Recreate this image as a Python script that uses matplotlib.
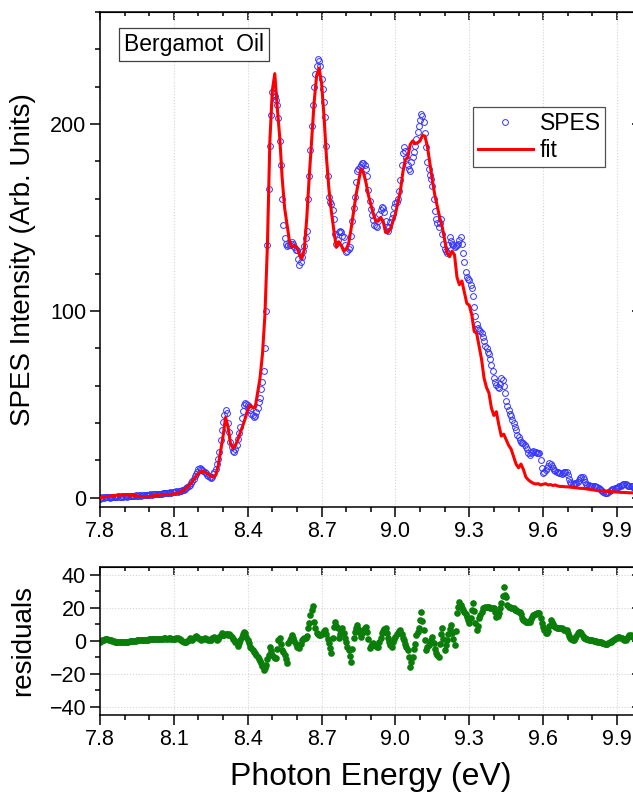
import numpy as np
import matplotlib
matplotlib.use('Agg')
import matplotlib.pyplot as plt
from matplotlib.ticker import MultipleLocator

plt.rcParams['font.family'] = ['Liberation Sans', 'DejaVu Sans']

# scan grid (eV)
spes_e0, spes_de = 7.80, 0.005
fit_e0, fit_de = 7.80, 0.01

# SPES intensity, one row per 0.1 eV
spes = [
    -0.5, 0.0, 0.3, 0.0, 0.5, 0.2, 0.5, 0.3, 0.0, 0.4, 0.5, 0.3, 0.6, 0.4, 0.5, 0.7, 0.5, 0.6, 0.8, 0.6,
    0.7, 0.9, 0.6, 0.8, 1.0, 0.8, 0.9, 1.1, 1.0, 1.2, 1.0, 1.1, 1.3, 1.1, 1.4, 1.2, 1.3, 1.5, 1.4, 1.6,
    1.5, 1.7, 1.6, 1.8, 1.7, 2.0, 1.9, 2.1, 2.0, 2.2, 2.1, 2.3, 2.4, 2.3, 2.5, 2.6, 2.5, 2.8, 2.7, 2.9,
    3.0, 3.1, 3.3, 3.2, 3.5, 3.8, 3.6, 4.0, 4.2, 4.5, 5.0, 5.5, 6.2, 7.0, 7.8, 8.8, 10.0, 11.5, 12.8, 14.0,
    15.5, 16.0, 15.5, 15.0, 14.5, 13.5, 13.0, 12.0, 11.5, 11.0, 10.5, 11.0, 12.5, 13.5, 15.5, 18.0, 20.5, 24.5, 31.0, 36.0,
    40.5, 44.0, 47.0, 45.5, 40.0, 35.0, 30.0, 27.0, 25.0, 24.5, 26.0, 28.0, 31.5, 34.5, 38.0, 42.5, 46.5, 49.5, 50.5, 50.0,
    49.5, 48.5, 47.0, 45.0, 44.0, 43.0, 43.5, 46.0, 48.0, 51.0, 53.5, 58.0, 62.0, 68.0, 80.0, 100.0, 135.0, 165.0, 188.0, 205.0,
    217, 216, 215, 213, 210, 203, 191, 178, 160, 146, 139, 136, 134.5, 135, 135, 136, 137, 136, 134, 132.5,
    132.5, 128, 124.5, 126, 129, 132, 134.5, 139, 143, 160, 172, 186, 199, 210, 220, 227, 231, 235, 234, 231,
    224, 219, 212, 204, 188, 172, 161, 158.5, 157, 154, 149, 141, 136, 138, 142, 143, 142, 140, 139.5, 135,
    131.5, 132, 133, 134, 140, 148, 155, 161, 169, 175, 176, 177, 178, 179, 179, 178, 176, 172, 164.5, 159,
    154.7, 151.5, 148.5, 146, 145.5, 145, 148, 152, 154, 155.6, 155, 153, 148, 145, 143, 145, 147.6, 149.5, 152, 155.6,
    157.5, 158.5, 160, 164, 170, 178, 184.5, 187.5, 185.5, 182, 178, 176, 175, 179.5, 182.5, 185, 188, 192, 195.5, 199,
    202, 205.5, 204.5, 201, 195, 187.7, 179.7, 176, 173, 170.5, 167, 160, 153.5, 149, 147, 145, 147, 149, 141, 136,
    133, 132, 131, 135, 139.6, 137.5, 136, 135, 134, 134.5, 135, 136, 138, 139.6, 136, 131, 126, 121, 118.2, 117,
    116.3, 114, 112, 108, 102, 97, 93, 91, 90, 89, 88, 86, 84, 81, 80, 78, 77, 74, 71, 68,
    64, 62, 60.5, 59, 58.7, 61, 63.8, 63, 60, 56, 51.5, 49, 47, 45, 43.5, 41.5, 40, 38, 36, 33.5,
    32.5, 31, 30, 29.5, 29, 28, 27, 26, 24, 22.8, 24, 24.6, 25, 24.6, 24.5, 24, 24, 23.8, 20, 16,
    13, 14, 15, 15.7, 17, 18.4, 18, 17, 16, 15, 14.5, 14, 13.5, 13, 13, 12.5, 13, 13.5, 14, 14,
    12, 10, 8.5, 7.7, 7.5, 7.5, 7.6, 7.7, 8.5, 9.5, 10.5, 11, 11, 10, 8.5, 7.5, 7, 6.8, 6.5, 6.5,
    6.3, 6, 6, 5.9, 5.5, 5, 4.5, 4, 3.5, 3, 2.5, 2.3, 2.5, 3, 3.5, 4, 4.5, 4.5, 5, 5,
    5, 5.5, 6, 6.5, 7, 7.3, 7.5, 7.3, 7, 6.5, 6, 6, 6, 5.5, 5, 5, 5.5, 6, 6, 5.5,
    5.5,
]

# residuals, same grid as spes
residuals = [
    -1.0, -0.3, 0.3, 0.8, 1.0, 1.1, 1.0, 0.8, 0.6, 0.3, 0.0, -0.3, -0.6, -0.8, -1.0, -1.0, -1.0, -0.9, -0.8, -0.7,
    -0.6, -0.5, -0.5, -0.4, -0.3, -0.2, -0.1, 0.0, 0.1, 0.2, 0.3, 0.4, 0.5, 0.5, 0.6, 0.6, 0.7, 0.7, 0.8, 0.8,
    0.9, 0.9, 1.0, 1.0, 1.1, 1.1, 1.2, 1.2, 1.3, 1.3, 1.4, 1.4, 1.5, 1.5, 1.4, 1.4, 1.5, 1.5, 1.4, 1.4,
    1.3, 1.4, 1.5, 1.5, 1.4, 1.2, 0.8, 0.2, -0.5, -1.0, -0.6, 0.0, 0.8, 1.5, 1.2, 0.8, 1.5, 2.2, 2.9, 2.5,
    1.5, 0.9, 0.8, 0.9, 1.2, 1.5, 1.2, 0.9, 0.5, 0.4, 0.8, 1.5, 2.0, 2.5, 1.5, 0.5, 1.0, 2.5, 3.5, 4.6,
    3.5, 3.8, 4.2, 4.0, 3.5, 4.0, 3.8, 2.5, 1.0, 0.5, -0.5, -1.5, -3.0, -1.5, 0.5, 2.5, 4.0, 5.6, 4.5, 2.5,
    0.5, -1.5, -3.5, -4.5, -5.5, -6.6, -7.5, -8.5, -9.6, -11.0, -12.5, -13.7, -15.5, -17.7, -16.5, -14.7, -11.0, -8.6, -3.5, -6.0,
    -8.5, -9.6, -10.5, -10.6, -5.0, 0.5, 1.5, -2.0, -5.6, -7.0, -8.6, -11.0, -13.7, -1.5, 0.5, 2.0, 3.5, 2.0, 0.0, -2.0,
    -3.5, -4.0, -4.5, -2.0, 0.5, 1.0, 1.5, 1.5, 3.0, 7.6, 11.0, 15.7, 18.5, 21.4, 11.6, 8.0, 4.6, 4.0, 3.5, 3.5,
    4.0, 5.0, 6.0, 6.6, 4.0, 1.0, -1.5, -4.5, -7.6, 2.0, 8.5, 11.6, 9.0, 7.6, 1.5, 4.0, 6.0, 7.6, 4.5, 1.5,
    -1.0, -3.5, -5.6, -9.0, -12.7, -5.0, 2.0, 5.6, 7.5, 9.6, 7.0, 4.5, 2.5, 4.5, 6.5, 8.0, 8.6, 5.6, 1.0, -4.5,
    -3.0, -2.0, -1.5, -2.5, -3.0, -3.5, -3.5, -1.0, 2.0, 4.6, 6.0, 7.0, 7.6, 5.0, 1.5, -1.0, -2.5, -3.5, -1.0, 1.0,
    2.5, 4.0, 5.0, 6.0, 6.6, 4.0, 2.0, 0.5, -2.0, -4.0, -5.6, -10.0, -15.7, -13.0, -9.6, -5.0, -2.0, 3.5, 5.5, 7.6,
    12.6, 17.7, 12.0, 6.6, 0.5, -5.6, -4.0, -2.5, -1.5, 0.5, 2.5, -1.5, -5.0, -7.6, -8.5, -9.6, -2.0, 4.0, 7.6, 1.0,
    -5.6, -2.5, 0.5, 4.0, 7.0, 9.6, 5.0, 1.0, -2.5, 6.0, 16.7, 20.5, 23.8, 22.0, 20.0, 18.7, 17.5, 16.0, 14.7, 12.5,
    10.6, 14.0, 19.0, 22.8, 18.0, 11.0, 6.6, 9.0, 13.7, 15.5, 17.5, 19.7, 20.0, 20.5, 20.7, 20.7, 20.7, 20.0, 19.7, 19.7,
    19.7, 17.5, 14.7, 15.0, 17.0, 20.0, 22.8, 27.0, 32.9, 28.0, 26.8, 22.0, 20.7, 20.5, 20.0, 20.0, 19.7, 19.0, 18.5, 18.0,
    17.7, 17.7, 16.0, 14.0, 12.6, 12.0, 11.5, 11.6, 11.6, 11.6, 13.0, 14.5, 15.7, 16.0, 16.5, 16.7, 16.7, 16.7, 14.0, 11.0,
    8.6, 6.5, 5.0, 4.6, 6.0, 9.0, 12.6, 11.5, 10.0, 9.0, 8.6, 8.0, 7.8, 7.6, 7.6, 7.6, 7.0, 6.8, 6.6, 6.6,
    5.0, 3.0, 1.5, 1.0, 0.5, 0.5, 1.5, 3.0, 4.5, 5.2, 5.6, 4.5, 3.0, 2.0, 1.5, 1.2, 1.0, 0.8, 0.5, 0.5,
    0.3, 0.2, 0.0, -0.2, -0.4, -0.5, -0.8, -1.0, -1.3, -1.6, -1.8, -2.0, -2.0, -1.5, -1.0, -0.5, 0.0, 0.5, 1.0, 1.5,
    1.8, 2.2, 2.5, 2.0, 1.5, 1.0, 0.5, 0.8, 1.5, 2.5, 3.5, 3.5, 3.0, 2.5, 2.5, 2.8, 3.0, 3.2, 3.0, 2.8,
    2.5,
]

# fit curve, 0.01 eV steps
fit = [
    0, 0.2, 0.4, 0.6, 0.8, 1.0, 1.2, 1.3, 1.4, 1.5,
    1.5, 1.5, 1.4, 1.3, 1.1, 0.9, 0.7, 0.6, 0.5, 0.5,
    0.6, 0.8, 1.0, 1.2, 1.4, 1.5, 1.6, 1.7, 1.7, 1.8,
    1.9, 2.2, 2.6, 3.2, 4.0, 5.0, 6.3, 7.8, 9.5, 11.5,
    13.0, 14.0, 14.0, 13.5, 12.5, 11.5, 11.0, 12.0, 17.0, 25.0,
    33.0, 43.0, 38.0, 29.0, 26.5, 28.0, 31.0, 35.0, 38.5, 42.5,
    47.0, 49.5, 48.5, 48.0, 56.0, 64.0, 77.0, 98.0, 135.0, 191.0,
    218, 227, 209, 193, 171, 155, 146, 137, 134, 135,
    134, 130, 128, 133, 150, 172, 192, 212, 226, 230,
    222, 204, 182, 165, 153, 143, 134, 137, 135, 132,
    133, 136, 144, 153, 162, 169, 176, 174, 169, 162,
    157, 152, 148, 148, 150, 148, 142, 142, 144, 148,
    152, 158, 164, 174, 181, 182, 189, 191, 189.5, 190,
    191, 194, 193.5, 188, 179, 170, 162, 156, 150, 145,
    138, 131, 129, 132, 130, 118, 114, 116, 110, 104,
    103, 98, 89, 88, 81, 74, 64, 59, 56, 48,
    44, 46, 39, 33, 34, 31, 28, 26, 22, 18,
    16, 18, 15, 11, 9.5, 8.5, 7.7, 7.3, 7.5, 6.8,
    7.2, 7.5, 6.8, 7.0, 6.5, 6.8, 6.2, 6.0, 6.0, 5.8,
    5.8, 5.6, 5.5, 5.3, 5.2, 5.0, 5.0, 4.8, 4.6, 4.4,
    4.2, 4.0, 3.8, 3.7, 3.6, 3.5, 3.4, 3.3, 3.2, 3.1,
    3.0, 2.9, 2.8, 2.8, 2.7, 2.6, 2.6, 2.5, 2.5, 2.4,
    2.4,
]

xticks = [7.8, 8.1, 8.4, 8.7, 9.0, 9.3, 9.6, 9.9]
xtick_labels = ['7.8', '8.1', '8.4', '8.7', '9.0', '9.3', '9.6', '9.9']

e_spes = spes_e0 + spes_de * np.arange(len(spes))
e_fit = fit_e0 + fit_de * np.arange(len(fit))

W, H = 633, 793
fig = plt.figure(figsize=(W / 100, H / 100), dpi=100)
# right edge of the frame sits just past the image edge (as in the original)
ax = fig.add_axes([100 / W, 1 - 507 / H, 541.6 / W, 495 / H])
ax2 = fig.add_axes([100 / W, 1 - 715 / H, 541.6 / W, 148.3 / H])

grid_kw = dict(color='#d4d4d4', linestyle=':', linewidth=0.8)

# ---- top panel
ax.plot(e_spes, spes, 'o', mfc='none', mec='#3535ff', ms=4.2, mew=0.7,
        label='SPES', zorder=2)
ax.plot(e_fit, fit, '-', color='#ff0000', lw=2.2, label='fit', zorder=3)
ax.set_xlim(7.8, 10.0)
ax.set_ylim(-5, 260)
ax.set_yticks([0, 100, 200])
ax.yaxis.set_minor_locator(MultipleLocator(20))
ax.grid(axis='x', which='major', **grid_kw)
ax.set_ylabel('SPES Intensity (Arb. Units)', fontsize=20, va='center')
ax.yaxis.set_label_coords(-0.142, 0.5)

ax.text(0.045, 0.958, 'Bergamot  Oil', transform=ax.transAxes, fontsize=16.5,
        ha='left', va='top',
        bbox=dict(boxstyle='square,pad=0.22', fc='white', ec='#404040', lw=0.9))

leg = ax.legend(loc='upper left', bbox_to_anchor=(0.689, 0.808), fontsize=16.5,
                frameon=True, fancybox=False, framealpha=1, edgecolor='#505050',
                borderpad=0.2, handlelength=2.4, handletextpad=0.3,
                labelspacing=0.2, borderaxespad=0, numpoints=1)
leg.get_frame().set_linewidth(0.9)

# ---- residuals
ax2.plot(e_spes, residuals, 'o', color='#0a7d0a', ms=4.8, mec='none')
ax2.set_xlim(7.8, 10.0)
ax2.set_ylim(-45, 45)
ax2.set_yticks([-40, -20, 0, 20, 40])
ax2.yaxis.set_minor_locator(MultipleLocator(10))
ax2.grid(True, which='major', **grid_kw)
ax2.set_ylabel('residuals', fontsize=20, va='center')
ax2.yaxis.set_label_coords(-0.142, 0.5)
ax2.set_xlabel('Photon Energy (eV)', fontsize=23, labelpad=9)

for a in (ax, ax2):
    a.set_xticks(xticks)
    a.set_xticklabels(xtick_labels)
    a.xaxis.set_minor_locator(MultipleLocator(0.1))
    a.tick_params(which='both', direction='out', width=1.1, labelsize=15.5,
                  top=False, right=False, pad=3)
    a.tick_params(which='major', length=7)
    a.tick_params(which='minor', length=3.5)
    for s in a.spines.values():
        s.set_linewidth(1.1)
    # inward ticks on top and right
    sx = a.secondary_xaxis('top')
    sx.set_xticks(xticks)
    sx.xaxis.set_minor_locator(MultipleLocator(0.1))
    sx.tick_params(which='both', direction='in', width=1.1, labeltop=False)
    sx.tick_params(which='major', length=6)
    sx.tick_params(which='minor', length=3)
    sy = a.secondary_yaxis('right')
    sy.set_yticks(a.get_yticks())
    sy.yaxis.set_minor_locator(a.yaxis.get_minor_locator())
    sy.tick_params(which='both', direction='in', width=1.1, labelright=False)
    sy.tick_params(which='major', length=7)
    sy.tick_params(which='minor', length=3.5)

fig.savefig('out.png', dpi=100)
